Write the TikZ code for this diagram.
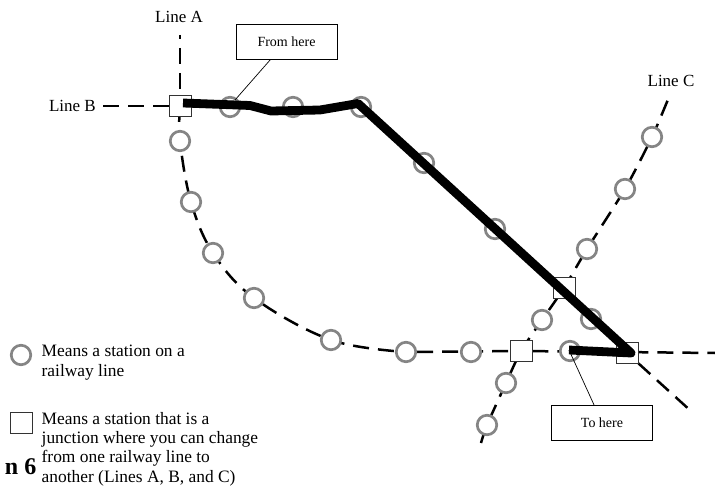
\documentclass[tikz,border=0pt]{standalone}
\usepackage{fontspec}
\setmainfont{Liberation Serif}
\usetikzlibrary{backgrounds}
\tikzset{
 stn/.style={circle,draw=black!48,line width=2.7pt,fill=white,minimum size=19.5pt,inner sep=0pt},
 junc/.style={rectangle,draw=black!80,line width=0.9pt,fill=white,minimum width=22pt,minimum height=21pt,inner sep=0pt},
 rail/.style={line width=2.5pt,dash pattern=on 16pt off 9pt,line cap=butt},
 route/.style={line width=8.8pt,line join=round,line cap=butt},
 callout/.style={rectangle,draw=black,line width=0.8pt,fill=white,minimum width=101pt,minimum height=35pt,inner sep=0pt,font=\fontsize{14}{16}\selectfont},
 leader/.style={line width=0.7pt},
 lbl/.style={inner sep=0pt,font=\fontsize{17}{19}\selectfont},
 legend/.style={inner sep=0pt,align=left,anchor=north west,font=\fontsize{17.4}{19.3}\selectfont}
}
\begin{document}
\begin{tikzpicture}[x=1pt,y=-1pt]
\useasboundingbox (0,0) rectangle (715,489);
% junctions and stations
\node[junc] (j1) at (180,106) {};
\node[junc] (j2) at (564,288) {};
\node[junc] (j3) at (521,351) {};
\node[junc] (j4) at (627,353) {};
\node[stn] (c1) at (180,141) {};
\node[stn] (c2) at (191,202) {};
\node[stn] (c3) at (213,253) {};
\node[stn] (c4) at (254,298) {};
\node[stn] (c5) at (331,340) {};
\node[stn] (c6) at (406,352) {};
\node[stn] (c7) at (471,352) {};
\node[stn] (c8) at (570,351) {};
\node[stn] (b1) at (230,107) {};
\node[stn] (b2) at (293,107) {};
\node[stn] (b3) at (361,107) {};
\node[stn] (d1) at (424,163) {};
\node[stn] (d2) at (495,229) {};
\node[stn] (d3) at (591,319) {};
\node[stn] (l1) at (487,425) {};
\node[stn] (l2) at (506,383) {};
\node[stn] (l3) at (542,320) {};
\node[stn] (l4) at (587,249) {};
\node[stn] (l5) at (625,189) {};
\node[stn] (l6) at (652,137) {};
% free ends
\coordinate (aTop) at (180,35);
\coordinate (bLeft) at (103,106);
\coordinate (cTop) at (669,97);
\coordinate (cBot) at (481,443);
\coordinate (eRight) at (715,353);
\coordinate (dEnd) at (692,412);
\coordinate (rA) at (183,103);
\coordinate (rB) at (250,105.5);
\coordinate (rC) at (271,111);
\coordinate (rD) at (320,110);
\coordinate (rE) at (358,103.5);
\coordinate (rF) at (631,353);
\coordinate (rG) at (569,350);
\coordinate (fromFoot) at (235,100);
\begin{pgfonlayer}{background}
\draw[rail,dash pattern=on 4pt off 9pt on 16pt off 9pt on 16pt off 9pt] (aTop) -- (j1);
\draw[rail] (bLeft) -- (j1);
\draw[rail] plot[smooth,tension=0.6] coordinates {(j1)(c1)(c2)(c3)(c4)(c5)(c6)};
\draw[rail] (c6) -- (j3) -- (eRight);
\draw[rail] plot[smooth,tension=0.4] coordinates {(cBot)(l1)(l2)(j3)(l3)(j2)(l4)(l5)(l6)(cTop)};
\draw[rail] (j4) -- (dEnd);
\end{pgfonlayer}
% route
\draw[route] (rA) -- (rB) -- (rC) -- (rD) -- (rE) -- (rF) -- (rG);
% callouts
\node[callout] (from) at (286.5,41.5) {From here};
\node[callout] (to) at (602,423) {To here};
\draw[leader] (from.south west)++(35,0) -- (fromFoot);
\draw[leader] (to.north west)++(43,0) -- (rG);
% labels
\node[lbl] (la) at (179,17) {Line A};
\node[lbl,anchor=east] (lb) at (96,106) {Line B};
\node[lbl] (lc) at (671,81) {Line C};
% legend
\node[stn] (k1) at (21,355) {};
\node[junc] (k2) at (21,423) {};
\node[legend] (t1) at (41.5,345) {Means a station on a\\railway line};
\node[legend] (t2) at (41.5,412) {Means a station that is a\\junction where you can change\\from one railway line to\\another (Lines A, B, and C)};
\node[inner sep=0pt,anchor=base east,font=\bfseries\fontsize{24}{26}\selectfont] (q) at (36.5,474) {n 6};
\end{tikzpicture}
\end{document}
